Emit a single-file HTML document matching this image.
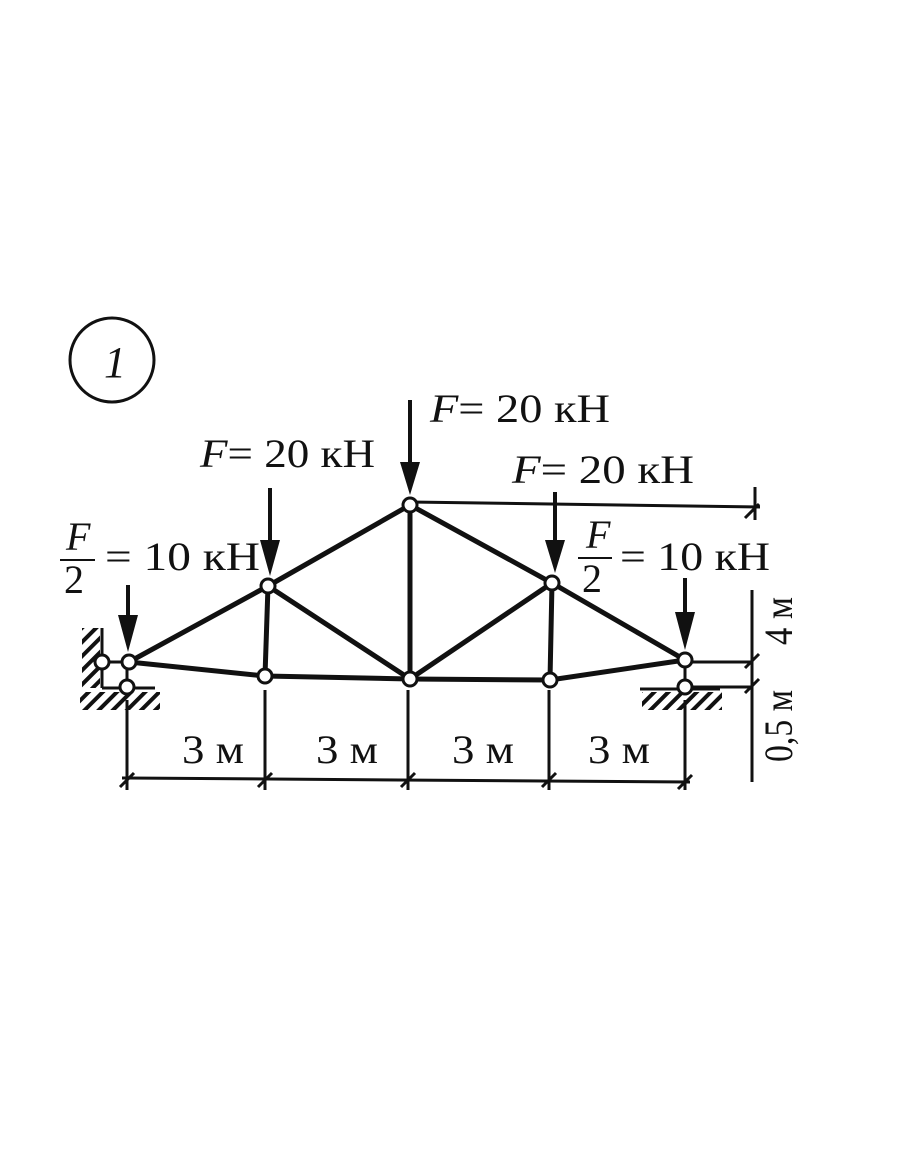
<!DOCTYPE html>
<html><head><style>body{margin:0;background:#fff}</style></head><body>
<svg width="910" height="1155" viewBox="0 0 910 1155" xmlns="http://www.w3.org/2000/svg" font-family="Liberation Serif, serif" fill="#111">
<defs><pattern id="h" width="10" height="10" patternUnits="userSpaceOnUse" patternTransform="rotate(45)"><rect width="4" height="10" fill="#111"/></pattern></defs>
<circle cx="112" cy="360" r="42" fill="none" stroke="#111" stroke-width="3"/>
<text x="104" y="377" font-size="44" font-style="italic">1</text>
<g stroke="#111" stroke-width="5" fill="none" stroke-linecap="round">
<polyline points="129,662 268,586 410,505 552,583 685,660"/>
<polyline points="129,662 265,676 410,679 550,680 685,660"/>
<line x1="268" y1="586" x2="265" y2="676"/><line x1="410" y1="505" x2="410" y2="679"/><line x1="552" y1="583" x2="550" y2="680"/>
<line x1="268" y1="586" x2="410" y2="679"/><line x1="410" y1="679" x2="552" y2="583"/>
</g>
<g stroke="#111" stroke-width="3" fill="none">
<line x1="102" y1="628" x2="102" y2="688"/><line x1="102" y1="688" x2="155" y2="688"/>
<line x1="102" y1="662" x2="129" y2="662"/><line x1="127" y1="662" x2="127" y2="687"/>
<line x1="685" y1="660" x2="685" y2="687"/><line x1="640" y1="689" x2="720" y2="689"/>
<line x1="685" y1="662" x2="752" y2="662"/><line x1="685" y1="687" x2="752" y2="687"/>
<line x1="410" y1="502" x2="760" y2="507"/>
<line x1="752" y1="590" x2="752" y2="782"/><line x1="755" y1="487" x2="755" y2="520"/>
<line x1="127" y1="700" x2="127" y2="790"/><line x1="265" y1="690" x2="265" y2="790"/><line x1="408" y1="690" x2="408" y2="790"/><line x1="549" y1="690" x2="549" y2="790"/><line x1="685" y1="700" x2="685" y2="790"/>
<line x1="122" y1="778" x2="690" y2="782"/>
<path d="M120 787l14-14M258 787l14-14M401 787l14-14M542 787l14-14M678 789l14-14M745 518l14-14M745 668l14-14M745 693l14-14"/>
</g>
<rect x="82" y="628" width="18" height="60" fill="url(#h)"/>
<rect x="80" y="692" width="80" height="18" fill="url(#h)"/>
<rect x="642" y="692" width="80" height="18" fill="url(#h)"/>
<g fill="#fff" stroke="#111" stroke-width="3">
<circle cx="129" cy="662" r="7"/><circle cx="102" cy="662" r="7"/><circle cx="127" cy="687" r="7"/>
<circle cx="268" cy="586" r="7"/><circle cx="410" cy="505" r="7"/><circle cx="552" cy="583" r="7"/>
<circle cx="265" cy="676" r="7"/><circle cx="410" cy="679" r="7"/><circle cx="550" cy="680" r="7"/>
<circle cx="685" cy="660" r="7"/><circle cx="685" cy="687" r="7"/>
</g>
<g stroke="#111" stroke-width="4">
<line x1="270" y1="488" x2="270" y2="555"/><line x1="410" y1="400" x2="410" y2="470"/><line x1="555" y1="492" x2="555" y2="550"/><line x1="128" y1="585" x2="128" y2="625"/><line x1="685" y1="578" x2="685" y2="620"/>
</g>
<path d="M260 540L280 540L270 576Z M400 462L420 462L410 495Z M545 540L565 540L555 573Z M118 615L138 615L128 652Z M675 612L695 612L685 650Z"/>
<g font-size="40">
<text x="200" y="467" textLength="175" lengthAdjust="spacingAndGlyphs"><tspan font-style="italic">F</tspan>= 20 кН</text>
<text x="430" y="422" textLength="180" lengthAdjust="spacingAndGlyphs"><tspan font-style="italic">F</tspan>= 20 кН</text>
<text x="512" y="483" textLength="182" lengthAdjust="spacingAndGlyphs"><tspan font-style="italic">F</tspan>= 20 кН</text>
<text x="66" y="550" font-style="italic">F</text><line x1="60" y1="560" x2="95" y2="560" stroke="#111" stroke-width="2"/><text x="64" y="593">2</text>
<text x="105" y="570" textLength="155" lengthAdjust="spacingAndGlyphs">= 10 кН</text>
<text x="586" y="548" font-style="italic">F</text><line x1="578" y1="558" x2="612" y2="558" stroke="#111" stroke-width="2"/><text x="582" y="592">2</text>
<text x="620" y="570" textLength="150" lengthAdjust="spacingAndGlyphs">= 10 кН</text>
<text x="182" y="763" textLength="62" lengthAdjust="spacingAndGlyphs">3 м</text><text x="316" y="763" textLength="62" lengthAdjust="spacingAndGlyphs">3 м</text><text x="452" y="763" textLength="62" lengthAdjust="spacingAndGlyphs">3 м</text><text x="588" y="763" textLength="62" lengthAdjust="spacingAndGlyphs">3 м</text>
<text transform="translate(792,645) rotate(-90)" textLength="48" lengthAdjust="spacingAndGlyphs">4 м</text>
<text transform="translate(792,762) rotate(-90)" textLength="72" lengthAdjust="spacingAndGlyphs">0,5 м</text>
</g>
</svg>
</body></html>
